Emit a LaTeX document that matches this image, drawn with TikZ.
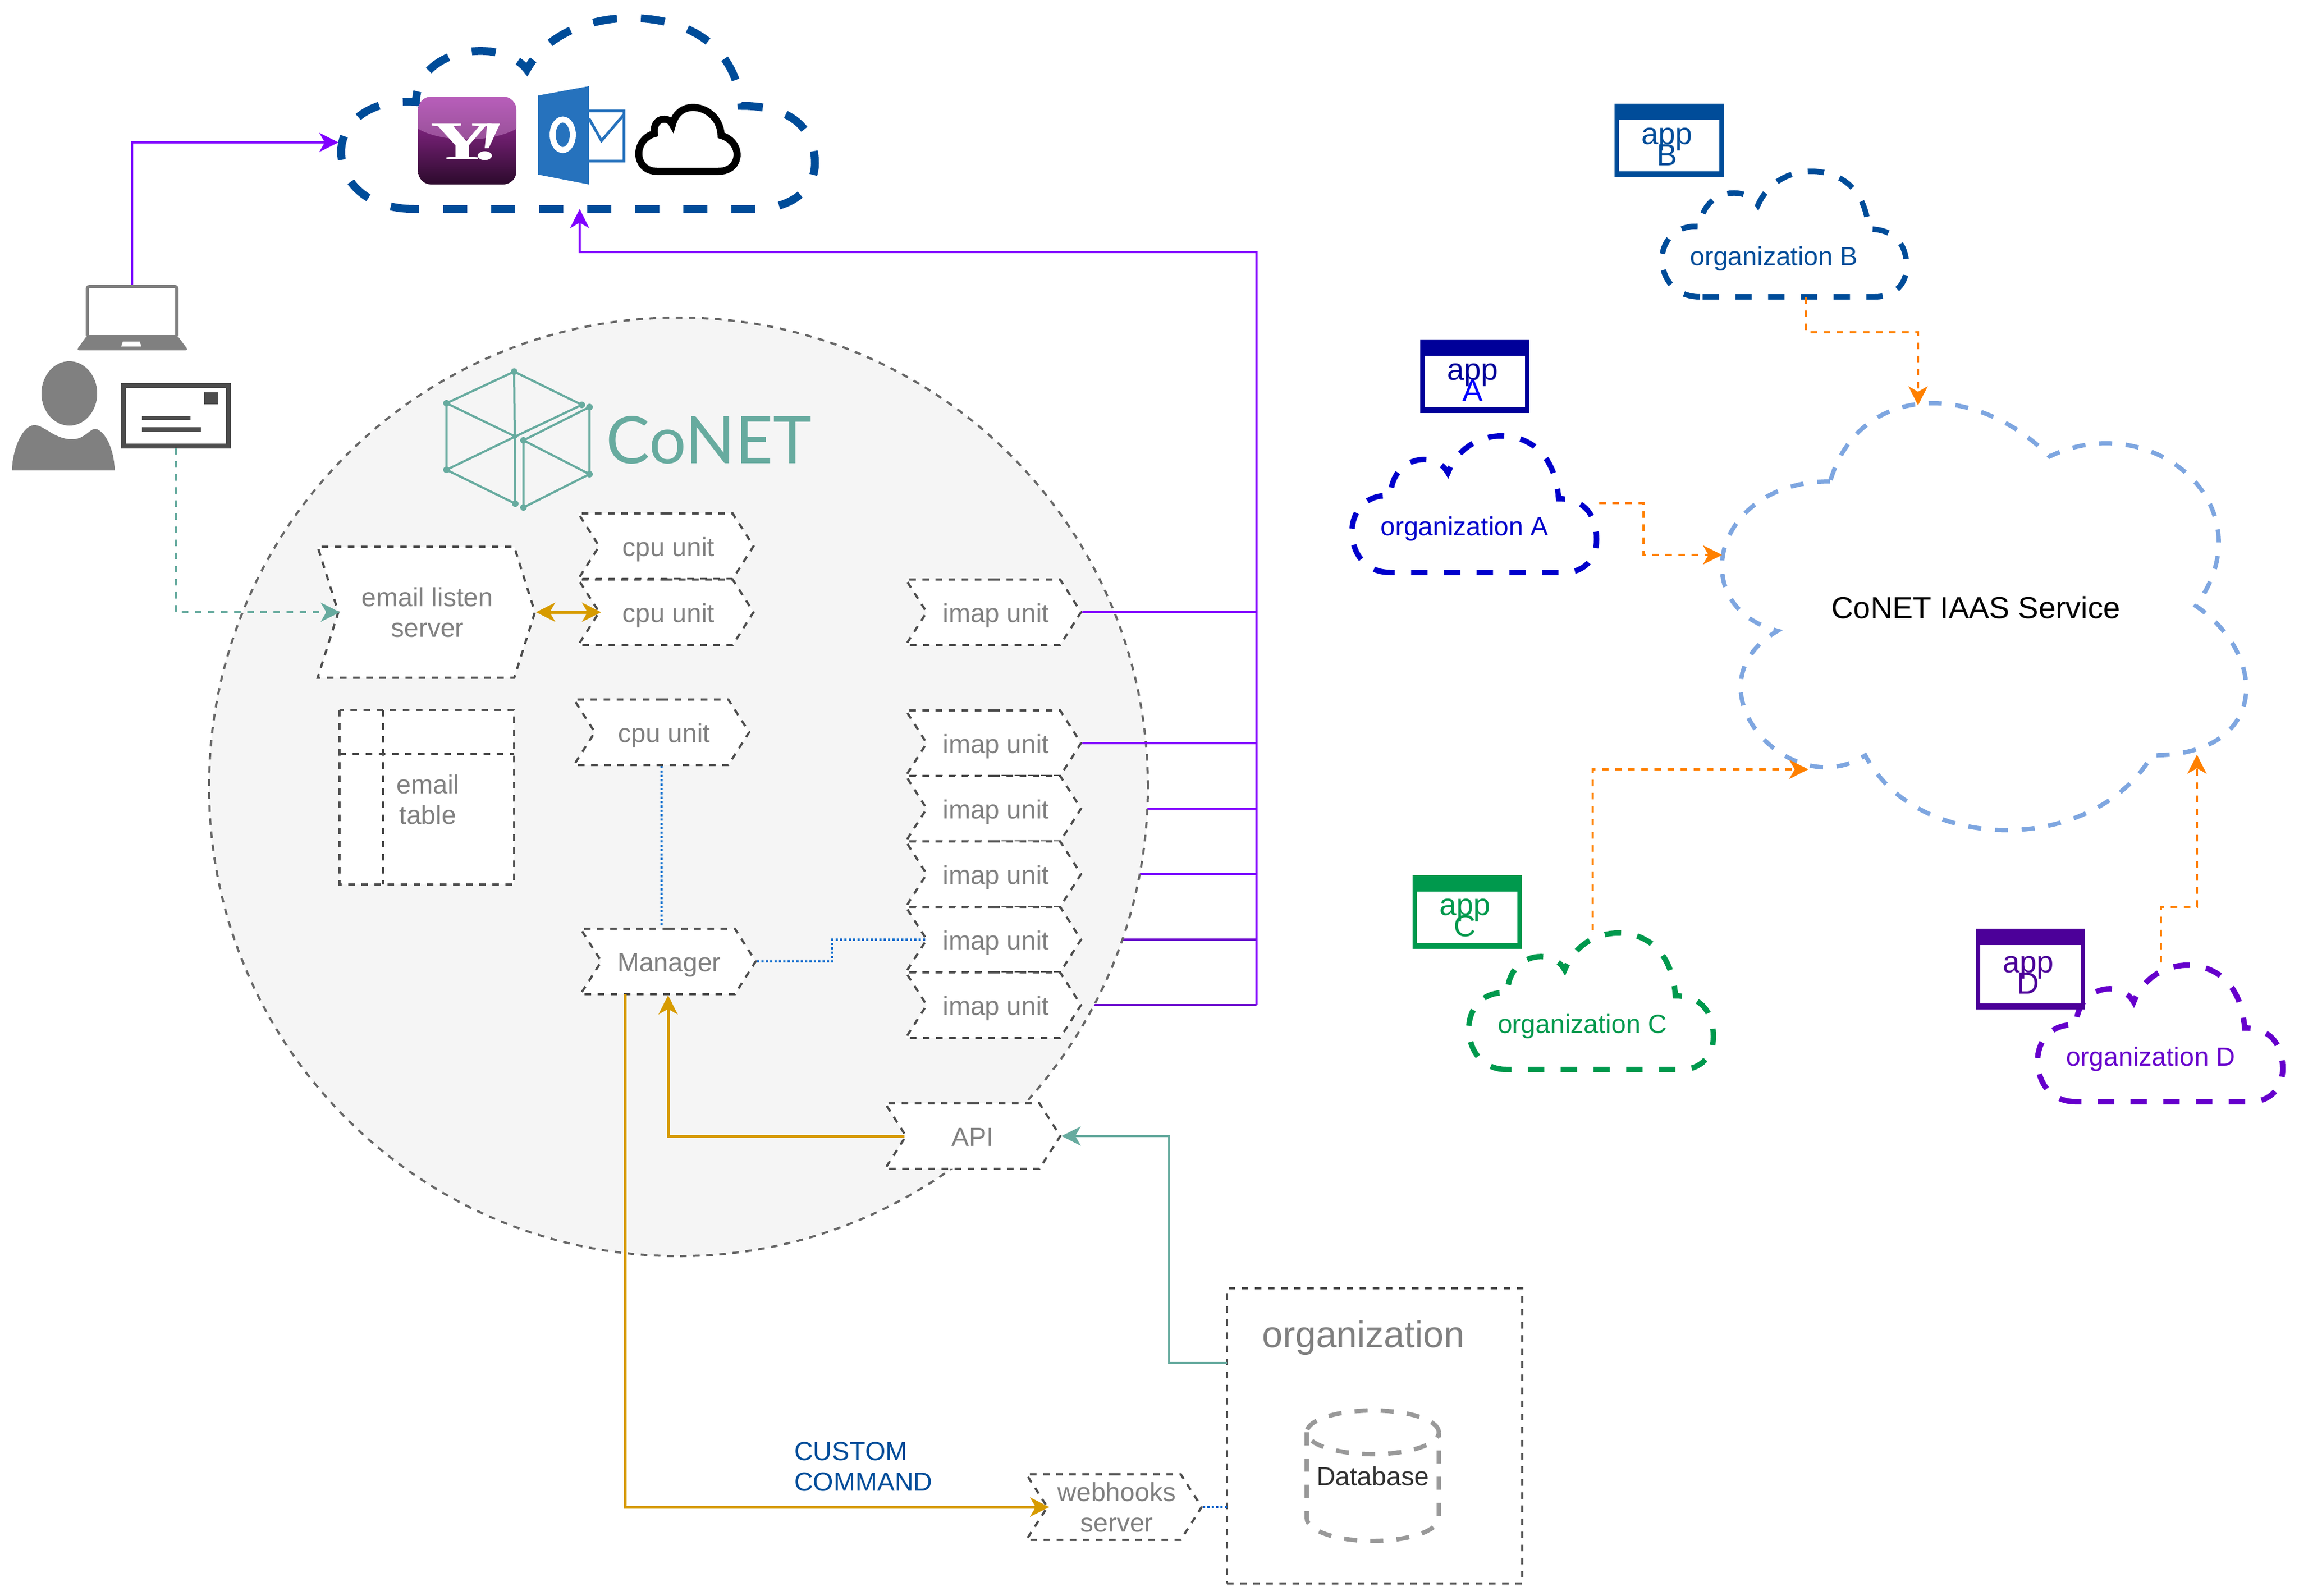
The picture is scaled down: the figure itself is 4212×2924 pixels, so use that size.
\documentclass[tikz,border=0pt]{standalone}
\usepackage{fontspec}
\setmainfont{Liberation Sans}
\newfontfamily\yahoofont{Liberation Serif}
\newfontfamily\logofont{Lato}
\usetikzlibrary{arrows.meta,shapes.symbols}
\definecolor{navy}{HTML}{004C99}
\definecolor{orgblue}{HTML}{0000CC}
\definecolor{appblue}{HTML}{000099}
\definecolor{orggreen}{HTML}{00994D}
\definecolor{orgviolet}{HTML}{6600CC}
\definecolor{appviolet}{HTML}{4C0099}
\definecolor{skyline}{HTML}{7EA6E0}
\definecolor{busviolet}{HTML}{8000FF}
\definecolor{teal}{HTML}{67AB9F}
\definecolor{gold}{HTML}{D79B00}
\definecolor{flame}{HTML}{FF8000}
\definecolor{wire}{HTML}{0066CC}
\definecolor{outlookblue}{HTML}{2672BD}
\definecolor{edgegray}{HTML}{4D4D4D}
\definecolor{textgray}{HTML}{808080}
\pgfdeclarelayer{under}
\pgfdeclarelayer{disc}
\pgfsetlayers{under,disc,main}
\setlength{\lineskiplimit}{-100pt}
\newcommand\txt[1]{\fontsize{#1}{56}\selectfont}
\newcommand\orgcloud[5]{%
	\begin{scope}[shift={(#1,#2)},x=#3pt,y=-#4pt]
		\draw[#5] (.155,1) .. controls (.05,1) and (0,.85) .. (0,.70)
			.. controls (0,.55) and (.06,.42) .. (.158,.44)
			.. controls (.16,.15) and (.34,.10) .. (.392,.27)
			.. controls (.44,.06) and (.54,0) .. (.61,0)
			.. controls (.72,0) and (.83,.12) .. (.845,.46)
			.. controls (.95,.46) and (1,.58) .. (1,.76)
			.. controls (1,.9) and (.95,1) .. (.87,1) -- cycle;
	\end{scope}}
\newcommand\appbox[8]{%
	\fill[#6] (#2,#3) rectangle (#4,#5);
	\fill[white] (#2+8,#3+30) rectangle (#4-8,#5-11);
	\node[apptext,text=#6] (#1) at ({(#2+#4)/2-4},{(#3+#5)/2+11}) {app\\#7#8};}
\tikzstyle{stepbox}=[signal,signal to=east,signal from=west,signal pointer angle=115,draw=edgegray,line width=4pt,dash pattern=on 12pt off 12pt,fill=white,text=textgray,minimum width=321pt,minimum height=120pt,inner sep=0pt,align=center,font=\txt{48}]
\tikzstyle{steptext}=[stepbox,text height=46pt,text depth=10pt]
\tikzstyle{unitbox}=[steptext,execute at begin node=\hspace*{10pt}]
\tikzstyle{tallstep}=[stepbox,signal pointer angle=145,minimum width=398pt,minimum height=240pt]
\tikzstyle{plain}=[inner sep=0pt,align=center,font=\txt{48}]
\tikzstyle{apptext}=[inner sep=0pt,align=center,font=\fontsize{56}{39}\selectfont]
\tikzstyle{flowhead}=[>/.tip={Stealth[length=35pt,width=35pt,inset=10pt]}]
\tikzstyle{thickcloud}=[line width=14.5pt,dash pattern=on 44pt off 44pt]
\tikzstyle{smallcloud}=[line width=10pt,dash pattern=on 30pt off 30pt,fill=white]
\tikzstyle{busline}=[line width=4pt,draw=busviolet,flowhead]
\tikzstyle{busdark}=[line width=4pt,draw=orgviolet]
\tikzstyle{goldline}=[line width=5pt,draw=gold,flowhead]
\tikzstyle{tealline}=[line width=4pt,draw=teal,flowhead]
\tikzstyle{flameline}=[line width=4pt,draw=flame,dash pattern=on 12pt off 12pt,flowhead]
\tikzstyle{wireline}=[line width=4pt,draw=wire,dash pattern=on 4pt off 4pt]
\tikzstyle{cubeline}=[line width=4pt,draw=teal]
\tikzstyle{cubedot}=[fill=teal]
\begin{document}
\begin{tikzpicture}[x=1pt,y=-1pt]
	\useasboundingbox (0,0) rectangle (4212,2924);
	\begin{pgfonlayer}{disc}
		\draw[line width=4pt,draw=edgegray!85,dash pattern=on 12pt off 12pt,fill=black!4] (1243,1442) circle[radius=860pt];
	\end{pgfonlayer}
	% mail services
	\orgcloud{625}{33}{868}{350}{thickcloud,draw=navy,fill=white}
	\begin{scope}
		\clip[rounded corners=24pt] (766,177) rectangle (946,338);
		\shade[top color={rgb,255:red,125;green,35;blue,125},bottom color={rgb,255:red,44;green,10;blue,44}] (766,230) rectangle (946,338);
		\shade[top color={rgb,255:red,184;green,94;blue,186},bottom color={rgb,255:red,150;green,80;blue,150}] (766,177) -- (946,177) -- (946,236) .. controls (900,262) and (810,262) .. (766,236) -- cycle;
	\end{scope}
	\node[text=white,inner sep=0pt,xscale=1.6,font=\yahoofont\bfseries\fontsize{100}{100}\selectfont] (yahoo) at (857,260) {Y\kern-25pt\itshape !};
	\fill[outlookblue] (986,175) -- (1079,158) -- (1079,338) -- (986,320) -- cycle;
	\draw[white,line width=11pt] (1031,247) ellipse[x radius=18.5pt,y radius=28pt];
	\draw[outlookblue,line width=5pt] (1079,203) -- (1143,203) -- (1143,295) -- (1079,295) (1079,217) -- (1102,258) -- (1143,210);
	\draw[black,line width=13pt] (1204,314) .. controls (1160,314) and (1160,255) .. (1199,245) .. controls (1195,215) and (1225,212) .. (1232,228)
		.. controls (1245,175) and (1320,195) .. (1321,248) .. controls (1362,260) and (1360,314) .. (1316,314) -- cycle;
	% user
	\coordinate (laptoptop) at (242,522);
	\draw[textgray,line width=6pt,rounded corners=4pt] (160,615) -- (160,525) -- (324,525) -- (324,615);
	\fill[textgray,rounded corners=5pt] (160,614) -- (324,614) -- (345,642) -- (140,642) -- cycle;
	\fill[white] (225,626) -- (256,626) -- (259,635) -- (222,635) -- cycle;
	\fill[textgray] (127,721) ellipse[x radius=51pt,y radius=59pt];
	\fill[textgray] (22,862) .. controls (22,830) and (38,782) .. (62,779) .. controls (80,778) and (100,806) .. (133,805)
		.. controls (155,805) and (165,785) .. (175,786) .. controls (195,790) and (210,830) .. (210,862) -- cycle;
	\draw[edgegray,line width=9pt,fill=white] (226,706) rectangle (418,817);
	\fill[edgegray] (374,719) rectangle (400,741);
	\fill[edgegray] (260,763) rectangle (349,770);
	\fill[edgegray] (260,783) rectangle (368,791);
	\coordinate (mailbox) at (322,821);
	% CoNET logo
	\draw[cubeline] (818,739) -- (942,681) -- (1066,742) -- (944,800) -- (818,861) -- cycle;
	\draw[cubeline] (942,681) -- (944,923) -- (818,861);
	\draw[cubeline] (818,739) -- (944,800);
	\draw[cubeline] (1080,746) -- (959,807) -- (959,930) -- (1080,869) -- cycle;
	\draw[cubeline] (959,807) -- (1080,869);
	\fill[cubedot] (942,681) circle[radius=6pt] (818,739) circle[radius=6pt] (1066,742) circle[radius=6pt] (818,861) circle[radius=6pt] (944,923) circle[radius=6pt] (1080,746) circle[radius=6pt] (959,807) circle[radius=6pt] (1080,869) circle[radius=6pt] (959,930) circle[radius=6pt] (944,800) circle[radius=4pt];
	\node[text=teal,inner sep=0pt,font=\logofont\fontsize{120}{120}\selectfont] (conet) at (1299,806) {CoNET};
	% units
	\node[tallstep] (emailsrv) at (781,1122) {\hspace*{4pt}email listen\\\hspace*{4pt}server};
	\node[unitbox] (cpua) at (1220,1001) {cpu unit};
	\node[unitbox] (cpub) at (1220,1122) {cpu unit};
	\node[unitbox] (cpuc) at (1212,1342) {cpu unit};
	\node[unitbox] (imapa) at (1820,1122) {imap unit};
	\node[unitbox] (imapb) at (1820,1362) {imap unit};
	\node[unitbox] (imapc) at (1820,1482) {imap unit};
	\node[unitbox] (imapd) at (1820,1602) {imap unit};
	\node[unitbox] (imape) at (1820,1722) {imap unit};
	\node[unitbox] (imapf) at (1820,1842) {imap unit};
	\node[steptext] (manager) at (1224,1762) {\hspace*{4pt}Manager};
	\node[steptext] (api) at (1782,2082) {API};
	\node[stepbox] (webhooks) at (2041,2762) {\hspace*{10pt}webhooks\\\hspace*{10pt}server};
	\draw[line width=4pt,draw=edgegray,dash pattern=on 12pt off 12pt,fill=white] (622,1301) rectangle (942,1621) (702,1301) -- (702,1621) (622,1382) -- (942,1382);
	\node[plain,text=textgray] (emailtable) at (784,1465) {email\\table};
	% organization
	\node[draw=edgegray,line width=4pt,dash pattern=on 12pt off 12pt,fill=white,minimum width=541pt,minimum height=541pt,inner sep=0pt] (orgbox) at (2518,2631) {};
	\node[plain,text=textgray,font=\fontsize{68}{68}\selectfont] (orgname) at (2498,2452) {organization};
	\draw[line width=8pt,draw=black!40,dash pattern=on 24pt off 24pt] (2515,2625) ellipse[x radius=121pt,y radius=40pt]
		(2394,2625) -- (2394,2782) arc[start angle=180,end angle=360,x radius=121pt,y radius=42pt] -- (2636,2625);
	\node[plain,text=black!80] (database) at (2515,2705) {Database};
	\node[plain,text=navy,align=left,anchor=west] (customcmd) at (1455,2688) {CUSTOM\\COMMAND};
	% service and tenants
	\begin{scope}[shift={(3085,654)},x=1072pt,y=-913pt]
		\draw[line width=8pt,draw=skyline,dash pattern=on 24pt off 25pt] (.25,.25) .. controls (.05,.25) and (0,.5) .. (.16,.55)
			.. controls (0,.66) and (.18,.9) .. (.31,.8) .. controls (.4,1) and (.7,1) .. (.8,.8)
			.. controls (1,.8) and (1,.6) .. (.875,.5) .. controls (1,.3) and (.8,.1) .. (.625,.2)
			.. controls (.5,.05) and (.3,.05) .. (.25,.25) -- cycle;
	\end{scope}
	\node[plain,text=black,font=\txt{56}] (service) at (3620,1113) {CoNET IAAS Service};
	\orgcloud{3045}{314}{448}{230}{smallcloud,draw=navy}
	\orgcloud{2477}{799}{448}{250}{smallcloud,draw=orgblue}
	\orgcloud{2691}{1710}{448}{250}{smallcloud,draw=orggreen}
	\orgcloud{3733}{1769}{449}{250}{smallcloud,draw=orgviolet}
	\node[plain,text=navy] (orgb) at (3250,474) {organization B};
	\node[plain,text=orgblue] (orga) at (2683,969) {organization A};
	\node[plain,text=orggreen] (orgc) at (2899,1881) {organization C};
	\node[plain,text=orgviolet] (orgd) at (3940,1941) {organization D};
	\appbox{appb}{2958}{190}{3158}{325}{navy}{}{B}
	\appbox{appa}{2602}{622}{2802}{757}{appblue}{\color{blue}}{A}
	\appbox{appc}{2588}{1604}{2788}{1739}{orggreen}{}{C}
	\appbox{appd}{3620}{1702}{3820}{1850}{appviolet}{}{D}
	\coordinate (mailleft) at (620,261);
	\coordinate (mailbottom) at (1062,383);
	\coordinate (busturn) at (2302,462);
	\coordinate (apibend) at (2142,2082);
	\coordinate (orgboxout) at (2248,2498);
	\coordinate (managerout) at (1145,1822);
	\coordinate (orgbout) at (3309,545);
	\coordinate (orgaout) at (2930,922);
	\coordinate (orgcout) at (2918,1705);
	\coordinate (orgdout) at (3959,1764);
	\coordinate (servicetop) at (3514,743);
	\coordinate (serviceleft) at (3155,1017);
	\coordinate (servicelow) at (3313,1410);
	\coordinate (serviceright) at (4025,1383);
	% links
	\draw[busline,->] (laptoptop) |- (mailleft);
	\draw[busline,->] (2302,1842) -- (busturn) -| (mailbottom);
	\draw[busline] (imapa.east) -- (2302,1122);
	\draw[busline] (imapb.east) -- (2302,1362);
	\begin{pgfonlayer}{under}
		\draw[busline] (imapc.east) -- (2302,1482);
		\draw[busline] (imapd.east) -- (2302,1602);
		\draw[busdark] (imape.east) -- (2302,1722);
		\draw[busdark] (imapf.east) -- (2302,1842);
	\end{pgfonlayer}
	\draw[tealline,dash pattern=on 12pt off 12pt,->,shorten >=-5pt] (mailbox) |- (emailsrv.west);
	\draw[goldline,<->,shorten >=-6pt] (emailsrv.east) -- (cpub.west);
	\draw[wireline] (cpuc.south) -- (cpuc.south |- manager.north);
	\draw[wireline] (manager.east) -- (1525,1762) |- (imape.west);
	\draw[wireline] (webhooks.east) -- (2248,2762);
	\draw[goldline,->] (api.west) -| (manager.south);
	\draw[goldline,->,shorten >=-6pt] (managerout) |- (webhooks.west);
	\draw[tealline,->] (orgboxout) -- (2142,2498) -- (apibend) -- (api.east);
	\draw[flameline,->] (orgbout) -- (3309,609) -| (servicetop);
	\draw[flameline,->] (orgaout) -- (3011,922) |- (serviceleft);
	\draw[flameline,->] (orgcout) |- (servicelow);
	\draw[flameline,->] (orgdout) -- (3959,1662) -| (serviceright);
\end{tikzpicture}
\end{document}
